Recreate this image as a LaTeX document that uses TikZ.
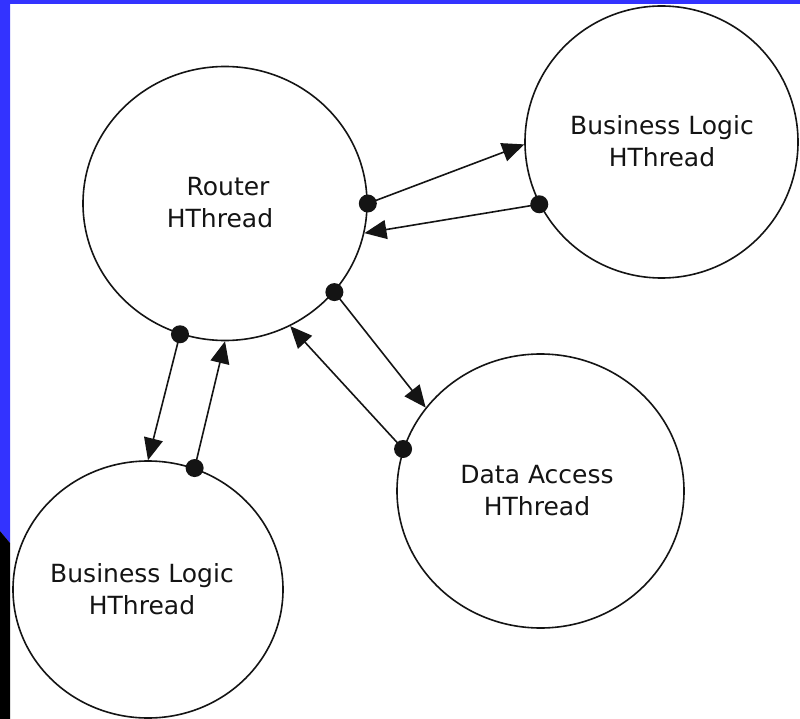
\documentclass[tikz,border=0pt]{standalone}
\usepackage{fontspec}
\setmainfont{DejaVu Sans}
\usetikzlibrary{shapes.geometric,arrows.meta}
\definecolor{slideblue}{RGB}{51,51,255}
\definecolor{ink}{RGB}{20,20,20}
\tikzset{
  thread/.style={draw=ink, ellipse, line width=1.6pt, inner sep=0pt},
  lbl/.style={align=center, inner sep=0pt, text=ink,
              font=\fontsize{25}{32}\selectfont},
  dot/.style={circle, fill=ink, inner sep=0pt, minimum size=18pt},
  flow/.style={draw=ink, line width=1.6pt, -{Triangle[length=22pt,width=19pt]}}
}
\begin{document}
\begin{tikzpicture}[x=1pt,y=-1pt]
  \useasboundingbox (0,0) rectangle (800,719);
  % slide background
  \fill[white] (0,0) rectangle (800,719);
  \fill[slideblue] (0,0) rectangle (800,4);
  \fill[slideblue] (0,0) -- (10,0) -- (10,543) -- (0,531) -- cycle;
  \fill[black] (0,531) -- (10,543) -- (10,719) -- (0,719) -- cycle;

  % threads
  \node[thread, minimum width=284pt, minimum height=274pt] (router) at (225,203.5) {};
  \node[thread, minimum width=273pt, minimum height=272pt] (bltop) at (661.5,142) {};
  \node[thread, minimum width=287pt, minimum height=274pt] (data) at (540.5,491) {};
  \node[thread, minimum width=270pt, minimum height=257pt] (blbot) at (148,589.5) {};

  \node[lbl] (routertext) at (220,203) {\hspace*{16pt}Router\\HThread};
  \node[lbl] (bltoptext) at (662,141) {Business Logic\\HThread};
  \node[lbl] (datatext) at (537,491) {Data Access\\HThread};
  \node[lbl] (blbottext) at (142,589) {Business Logic\\HThread};

  % message ports
  \node[dot] (r1) at (router.0) {};
  \node[dot] (r2) at (router.-39) {};
  \node[dot] (r3) at (router.-109) {};
  \node[dot] (b1) at (bltop.207) {};
  \node[dot] (d1) at (data.163) {};
  \node[dot] (b2) at (blbot.69) {};

  % messages
  \draw[flow] (r1.center) -- (bltop.181);
  \draw[flow] (b1.center) -- (router.-12);
  \draw[flow] (r2.center) -- (data.144);
  \draw[flow] (d1.center) -- (router.-62);
  \draw[flow] (r3.center) -- (blbot.90);
  \draw[flow] (b2.center) -- (router.-90);
\end{tikzpicture}
\end{document}
